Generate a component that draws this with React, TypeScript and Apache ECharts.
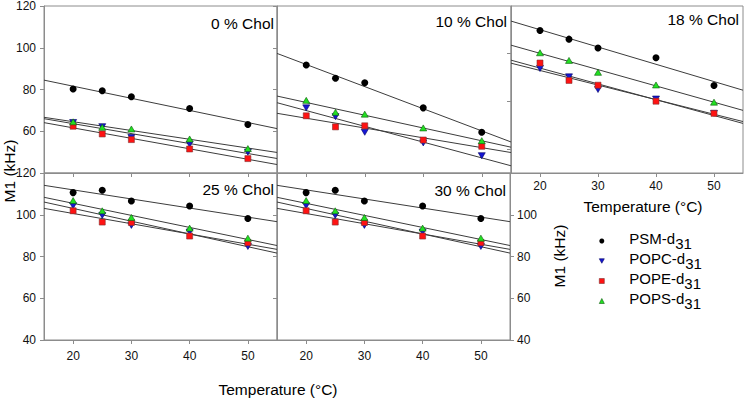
import React, { useEffect, useRef } from 'react';
import * as echarts from 'echarts';

// ---- data ----
const temperatures = [20, 25, 30, 40, 50];
const lipidNames = ['PSM-d31', 'POPC-d31', 'POPE-d31', 'POPS-d31'];
const panelLabels = ['0 % Chol', '10 % Chol', '18 % Chol', '25 % Chol', '30 % Chol'];
const xTickValues = [20, 30, 40, 50];
const yTicks18 = [60, 80, 100];

const psm0 = [80.2, 79.4, 76.5, 70.9, 63.2];
const popc0 = [64.2, 62.2, 57.0, 53.8, 50.0];
const pope0 = [62.4, 58.7, 56.0, 51.5, 46.9];
const pops0 = [64.5, 61.9, 61.1, 56.3, 51.7];

const psm10 = [91.7, 85.4, 83.2, 71.2, 59.5];
const popc10 = [71.2, 67.0, 59.5, 54.4, 48.3];
const pope10 = [67.4, 62.1, 62.6, 55.8, 52.8];
const pops10 = [74.8, 69.1, 68.2, 61.6, 55.5];

const psm18 = [109.7, 106.1, 102.4, 98.3, 86.7];
const popc18 = [93.8, 90.3, 85.0, 81.0, 75.0];
const pope18 = [96.1, 88.8, 86.8, 80.1, 75.0];
const pops18 = [100.4, 97.2, 92.2, 86.9, 79.7];

const psm25 = [110.6, 111.7, 106.6, 104.2, 98.2];
const popc25 = [104.3, 99.7, 94.9, 91.7, 84.8];
const pope25 = [101.9, 96.5, 96.3, 89.8, 86.6];
const pops25 = [106.8, 101.9, 98.7, 93.6, 88.8];

const psm30 = [110.6, 111.7, 106.6, 104.2, 98.2];
const popc30 = [104.3, 99.7, 94.9, 91.7, 84.8];
const pope30 = [101.9, 96.5, 96.3, 89.8, 86.6];
const pops30 = [106.8, 101.9, 98.7, 93.6, 88.8];

const panels = [
  [psm0, popc0, pope0, pops0],
  [psm10, popc10, pope10, pops10],
  [psm18, popc18, pope18, pops18],
  [psm25, popc25, pope25, pops25],
  [psm30, popc30, pope30, pops30],
];

// ---- styles / layout ----
const X_MIN = 15;
const X_MAX = 55;
const AX = '#8c8c8c';
const FONT = '"Liberation Sans", Arial, sans-serif';
const DOWN_TRI = 'path://M0,0L10,0L5,9Z';

const markerStyles = [
  { symbol: 'circle', size: 7, color: '#000000', border: '#000000', bw: 0 },
  { symbol: DOWN_TRI, size: [7, 6], color: '#1616d4', border: '#000060', bw: 0.6 },
  { symbol: 'rect', size: 6, color: '#ff1212', border: '#803030', bw: 0.6 },
  { symbol: 'triangle', size: [7, 6], color: '#22e022', border: '#0b5a0b', bw: 0.6 },
];

const gridBoxes = [
  { left: 44, top: 6, width: 233, height: 167 },
  { left: 277, top: 6, width: 234, height: 167 },
  { left: 511, top: 6, width: 232, height: 167 },
  { left: 44, top: 173, width: 233, height: 167 },
  { left: 277, top: 173, width: 233, height: 167 },
];

const labelPos = [
  { x: 274, y: 23 },
  { x: 507, y: 21 },
  { x: 739, y: 19 },
  { x: 274, y: 189 },
  { x: 506, y: 190 },
];

function fitLine(xs: number[], ys: number[]): number[][] {
  const n = xs.length;
  const mx = xs.reduce((a, b) => a + b, 0) / n;
  const my = ys.reduce((a, b) => a + b, 0) / n;
  let sxy = 0;
  let sxx = 0;
  for (let i = 0; i < n; i++) {
    sxy += (xs[i] - mx) * (ys[i] - my);
    sxx += (xs[i] - mx) * (xs[i] - mx);
  }
  const b = sxy / sxx;
  const a = my - b * mx;
  return [
    [X_MIN, a + b * X_MIN],
    [X_MAX, a + b * X_MAX],
  ];
}

export default function App() {
  const ref = useRef<HTMLDivElement>(null);

  useEffect(() => {
    if (!ref.current) return;
    const chart = echarts.init(ref.current, null, { renderer: 'svg' });

    const grid = gridBoxes.map((g) => ({
      ...g,
      show: true,
      borderColor: AX,
      borderWidth: 1,
      backgroundColor: 'transparent',
      containLabel: false,
    }));

    const xAxis = gridBoxes.map((_, i) => ({
      type: 'value',
      gridIndex: i,
      min: X_MIN,
      max: X_MAX,
      axisLine: { show: true, onZero: false, lineStyle: { color: AX, width: 1 } },
      axisTick: { show: true, customValues: xTickValues, length: 4, lineStyle: { color: AX } },
      axisLabel: {
        show: i >= 2,
        customValues: xTickValues,
        margin: i === 2 ? 7 : 10,
        fontSize: 12,
        color: '#111',
        fontFamily: FONT,
      },
      splitLine: { show: false },
    }));

    const baseY = (i: number) => ({
      type: 'value',
      gridIndex: i,
      axisLine: { show: true, onZero: false, lineStyle: { color: AX, width: 1 } },
      axisTick: { show: true, length: 4, lineStyle: { color: AX } },
      splitLine: { show: false },
    });
    const labelStyle = { fontSize: 12, color: '#111', fontFamily: FONT, margin: 8 };

    const yAxis = [
      { ...baseY(0), min: 40, max: 120, interval: 20, axisLabel: { ...labelStyle, showMinLabel: false } },
      { ...baseY(1), min: 40, max: 120, interval: 20, axisLabel: { show: false } },
      {
        ...baseY(2),
        min: 50,
        max: 120,
        axisTick: { show: true, length: 4, customValues: yTicks18, lineStyle: { color: AX } },
        axisLabel: { show: false },
      },
      { ...baseY(3), min: 40, max: 120, interval: 20, axisLabel: { ...labelStyle } },
      { ...baseY(4), min: 40, max: 120, interval: 20, axisLabel: { show: false } },
      {
        ...baseY(4),
        position: 'right',
        min: 40,
        max: 120,
        interval: 20,
        axisLabel: { ...labelStyle, margin: 7, showMaxLabel: false },
      },
    ];

    const series: any[] = [];
    panels.forEach((panel, p) => {
      panel.forEach((vals, l) => {
        series.push({
          name: 'fit-' + p + '-' + l,
          type: 'line',
          xAxisIndex: p,
          yAxisIndex: p,
          data: fitLine(temperatures, vals),
          symbol: 'none',
          silent: true,
          lineStyle: { color: '#3c3c3c', width: 1 },
          z: 2,
        });
      });
      panel.forEach((vals, l) => {
        const m = markerStyles[l];
        series.push({
          name: lipidNames[l],
          type: 'scatter',
          xAxisIndex: p,
          yAxisIndex: p,
          data: temperatures.map((t, k) => [t, vals[k]]),
          symbol: m.symbol,
          symbolSize: m.size,
          itemStyle: { color: m.color, borderColor: m.border, borderWidth: m.bw, opacity: 1 },
          z: 3 + l,
        });
      });
    });

    const legendFmt = (name: string) => {
      const base = name.replace('31', '');
      return '{n|' + base + '}{s|31}';
    };

    const graphic: any[] = [];
    panelLabels.forEach((txt, i) => {
      graphic.push({
        type: 'text',
        x: labelPos[i].x,
        y: labelPos[i].y,
        style: {
          text: txt,
          fill: '#000',
          font: '15.5px ' + FONT,
          textAlign: 'right',
          textVerticalAlign: 'middle',
        },
        z: 100,
      });
    });
    graphic.push({
      type: 'text',
      x: 9,
      y: 171,
      rotation: Math.PI / 2,
      style: { text: 'M1 (kHz)', fill: '#000', font: '15.5px ' + FONT, textAlign: 'center', textVerticalAlign: 'middle' },
    });
    graphic.push({
      type: 'text',
      x: 559,
      y: 256,
      rotation: Math.PI / 2,
      style: { text: 'M1 (kHz)', fill: '#000', font: '15.5px ' + FONT, textAlign: 'center', textVerticalAlign: 'middle' },
    });
    graphic.push({
      type: 'text',
      x: 278,
      y: 389,
      style: { text: 'Temperature (°C)', fill: '#000', font: '15.5px ' + FONT, textAlign: 'center', textVerticalAlign: 'middle' },
    });
    graphic.push({
      type: 'text',
      x: 643,
      y: 206,
      style: { text: 'Temperature (°C)', fill: '#000', font: '15.5px ' + FONT, textAlign: 'center', textVerticalAlign: 'middle' },
    });

    chart.setOption({
      animation: false,
      backgroundColor: '#ffffff',
      grid,
      xAxis,
      yAxis,
      series,
      graphic,
      legend: {
        data: lipidNames.map((name, l) => ({
          name,
          icon: markerStyles[l].symbol,
          itemStyle: {
            color: markerStyles[l].color,
            borderColor: markerStyles[l].border,
            borderWidth: markerStyles[l].bw,
          },
        })),
        orient: 'vertical',
        left: 599,
        top: 231,
        padding: 0,
        itemWidth: 5,
        itemHeight: 5,
        itemGap: 0,
        selectedMode: false,
        formatter: legendFmt,
        textStyle: {
          padding: [0, 0, 0, 20],
          rich: {
            n: { fontSize: 15, fontFamily: FONT, color: '#000', lineHeight: 14, verticalAlign: 'top' },
            s: { fontSize: 15, fontFamily: FONT, color: '#000', lineHeight: 20, verticalAlign: 'bottom' },
          },
        },
      },
    });

    return () => {
      chart.dispose();
    };
  }, []);

  return (
    <div
      ref={ref}
      style={{ position: 'absolute', left: 0, top: 0, width: 744, height: 400, background: '#fff' }}
    />
  );
}
